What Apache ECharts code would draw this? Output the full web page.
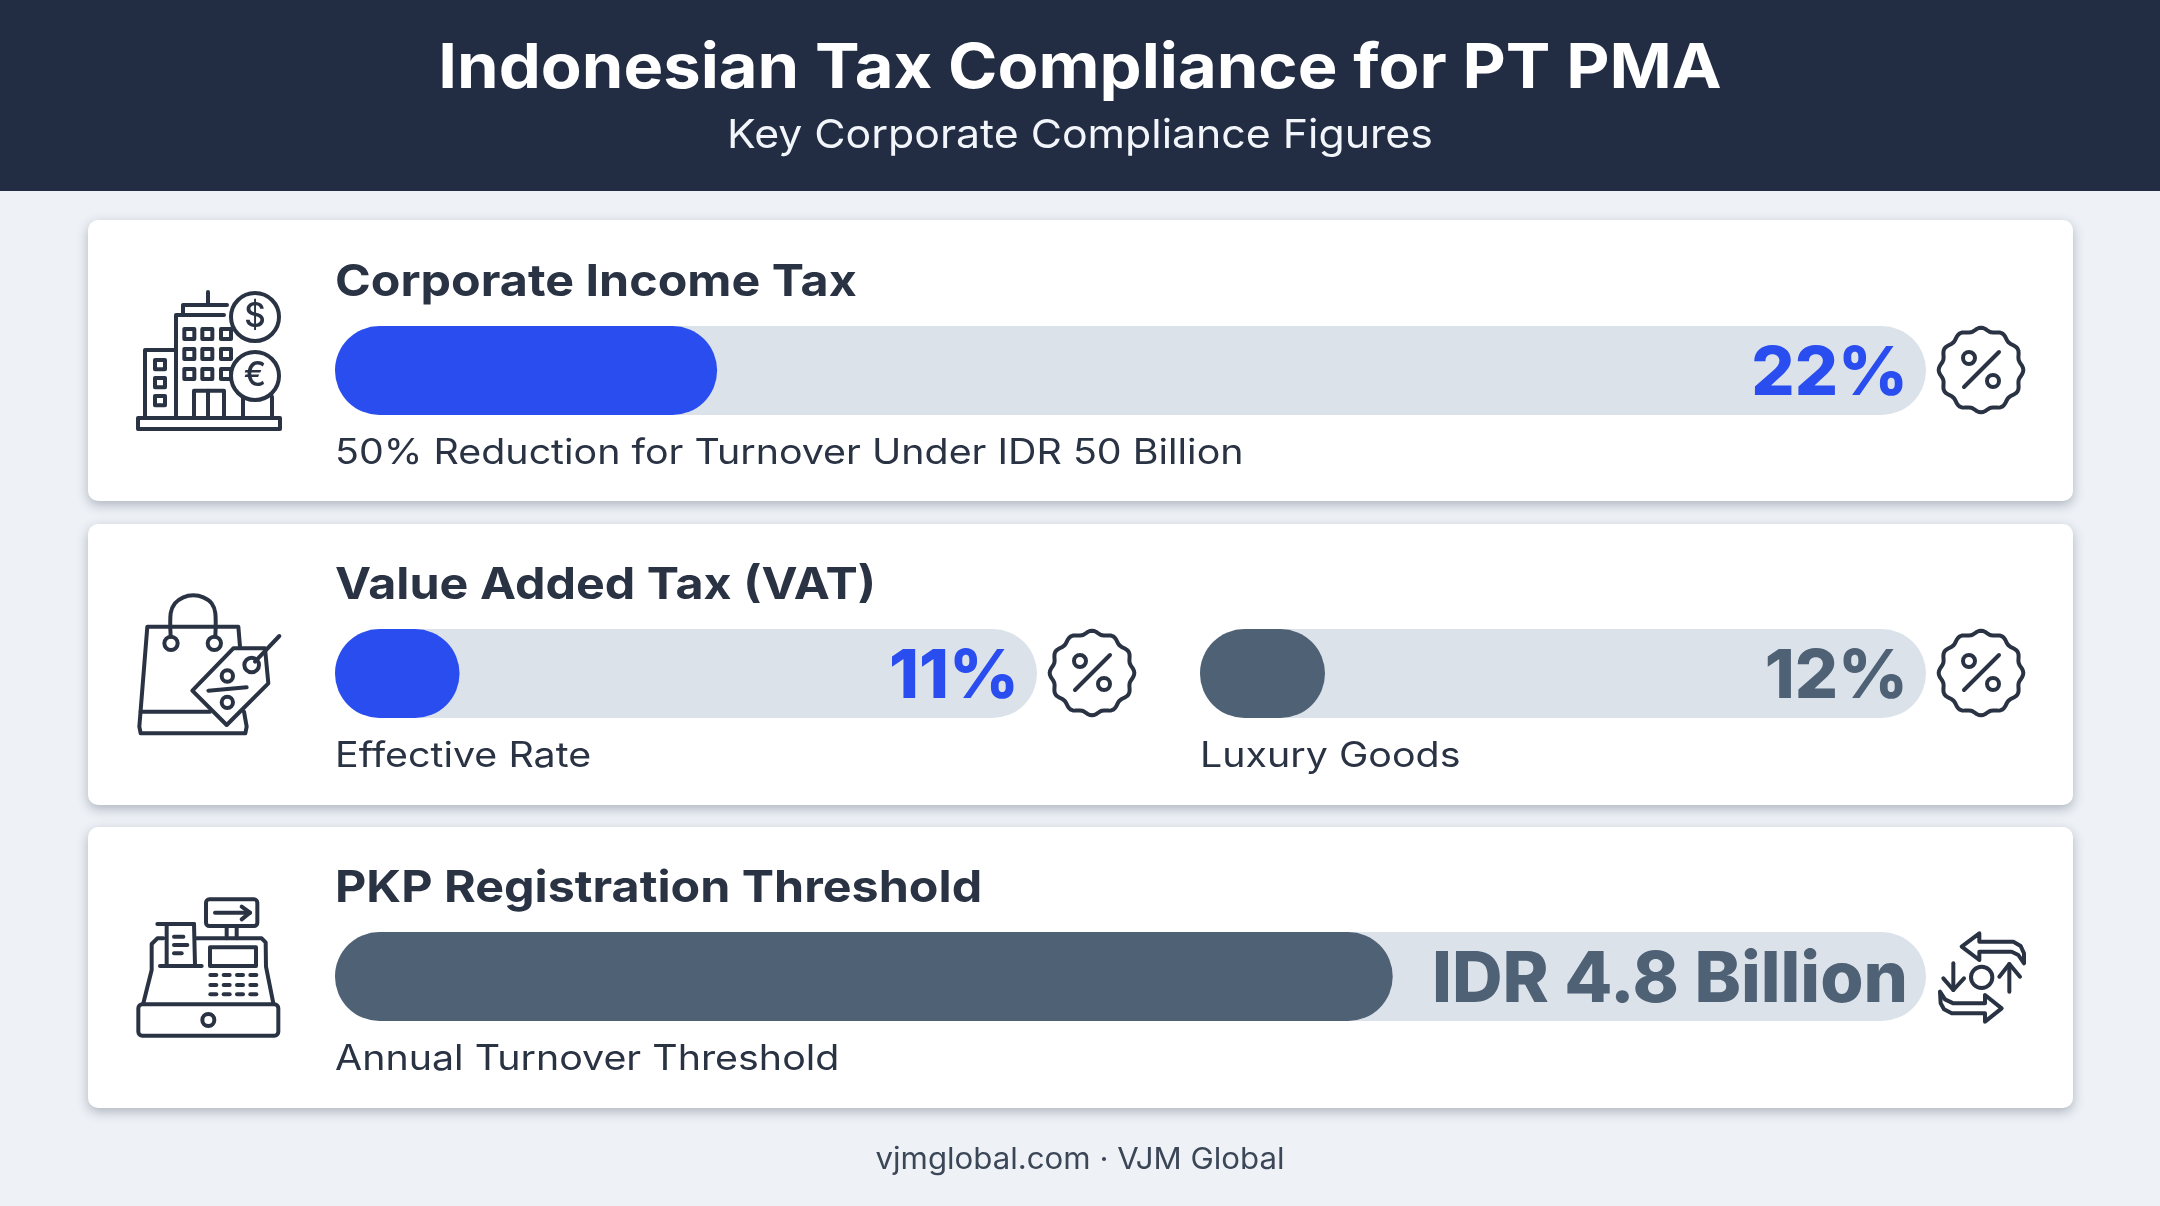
<!DOCTYPE html>
<html>
<head>
<meta charset="utf-8">
<title>Indonesian Tax Compliance for PT PMA</title>
<script src="https://cdn.jsdelivr.net/npm/echarts@6/dist/echarts.min.js"></script>
<style>
	html, body { margin: 0; padding: 0; background: #eef2f7; }
	#main { width: 2160px; height: 1206px; }
</style>
</head>
<body>
<div id="main"></div>
<script>
// chart data
var barNames = ['Corporate Income Tax', 'Effective Rate', 'Luxury Goods', 'PKP Registration Threshold'];
var barValues = [22, 11, 12, 4.8];
var valueLabels = ['22%', '11%', '12%', 'IDR 4.8 Billion'];
// each pill has its own scale in the picture
var trackMax = [91.6, 62, 69.7, 7.22];
var cardTitles = ['Corporate Income Tax', 'Value Added Tax (VAT)', 'PKP Registration Threshold'];
var captions = ['50% Reduction for Turnover Under IDR 50 Billion', 'Effective Rate', 'Luxury Goods', 'Annual Turnover Threshold'];
var headerTitle = 'Indonesian Tax Compliance for PT PMA';
var headerSub = 'Key Corporate Compliance Figures';
var footerText = 'vjmglobal.com · VJM Global';

var INK = '#2a3343', BLUE = '#2a4df0', SLATE = '#4f6175', TRACK = '#dbe2ea';
var FONT = 'Inter, "Noto Sans", sans-serif';

// pixel layout of the pills: left, top, width
var pills = [
	[335, 326, 1591],
	[335, 629, 702],
	[1200, 629, 726],
	[335, 932, 1591]
];
var labelColors = [BLUE, BLUE, SLATE, SLATE];
var labelSizes = [68, 68, 68, 70];

var myChart = echarts.init(document.getElementById('main'));

// stretch: the reference face is wider than Inter
function txt(text, x, y, font, color, align, stretch) {
	return {
		type: 'text', x: x, y: y, z: 5, scaleX: stretch || 1,
		style: { text: text, font: font, fill: color, textAlign: align || 'left', align: align || 'left', textVerticalAlign: 'middle', verticalAlign: 'middle' }
	};
}
function card(y, h) {
	return {
		type: 'rect', z: -1,
		shape: { x: 88, y: y, width: 1985, height: h, r: 10 },
		style: { fill: '#fff', shadowBlur: 12, shadowOffsetY: 4, shadowColor: 'rgba(40,50,70,0.32)' }
	};
}

// icon pieces
var strokeStyle = { stroke: '#2a3343', fill: 'none', lineWidth: 12, lineCap: 'round', lineJoin: 'round' };
function ln(x1, y1, x2, y2) {
	return { type: 'line', shape: { x1: x1, y1: y1, x2: x2, y2: y2 }, style: strokeStyle };
}
function poly(points, closed) {
	return { type: closed ? 'polygon' : 'polyline', shape: { points: points }, style: strokeStyle };
}
function ring(x, y, r) {
	return { type: 'circle', shape: { cx: x, cy: y, r: r }, style: strokeStyle };
}
function box(x, y, w, h, r) {
	return { type: 'rect', shape: { x: x, y: y, width: w, height: h, r: r || 0 }, style: strokeStyle };
}
// icons are drawn in 3x coordinates
function icon(x, y, children) {
	return { type: 'group', x: x, y: y, scaleX: 1 / 3, scaleY: 1 / 3, z: 4, children: children };
}

function buildingIcon() {
	var kids = [
		box(114, 594, 426, 33),
		poly([[135, 594], [135, 390], [228, 390]]),
		poly([[228, 594], [228, 285], [372, 285]]),
		poly([[249, 285], [249, 255], [381, 255]]),
		ln(324, 216, 324, 255),
		box(282, 512, 90, 82), ln(324, 512, 324, 594),
		poly([[429, 530], [429, 594]]), poly([[516, 530], [516, 594]]),
		{ type: 'circle', z: 1, shape: { cx: 465, cy: 291, r: 72 }, style: Object.assign({}, strokeStyle, { fill: '#fff' }) },
		{ type: 'circle', z: 1, shape: { cx: 465, cy: 468, r: 72 }, style: Object.assign({}, strokeStyle, { fill: '#fff' }) },
		{ type: 'text', x: 465, y: 291, z: 2, style: { text: '$', font: '500 100px ' + FONT, fill: INK, textAlign: 'center', align: 'center', textVerticalAlign: 'middle', verticalAlign: 'middle' } },
		{ type: 'text', x: 465, y: 468, z: 2, style: { text: '€', font: '500 100px ' + FONT, fill: INK, textAlign: 'center', align: 'center', textVerticalAlign: 'middle', verticalAlign: 'middle' } }
	];
	[420, 474, 528].forEach(function(wy) { kids.push(box(165, wy, 30, 28)); });
	[327, 387, 447].forEach(function(wy) {
		[253, 307, 363].forEach(function(wx) { kids.push(box(wx, wy, 30, 30)); });
	});
	return icon(100, 220, kids);
}
function bagIcon() {
	return icon(100, 570, [
		poly([[420, 230], [415, 170], [142, 170], [118, 470], [122, 490], [436, 490], [440, 470], [432, 425]]),
		ln(122, 425, 330, 425),
		{ type: 'polyline', shape: { points: [[212, 200], [212, 130], [225, 100], [250, 82], [280, 76], [310, 82], [335, 100], [346, 130], [346, 200]], smooth: 0.3 }, style: strokeStyle },
		ring(213, 220, 20), ring(343, 220, 20),
		{ type: 'polygon', z: 1, shape: { points: [[400, 235], [495, 235], [505, 340], [380, 465], [277, 362]] }, style: Object.assign({}, strokeStyle, { fill: '#fff' }) },
		Object.assign(ring(455, 285, 22), { z: 2 }),
		Object.assign(ln(465, 275, 538, 198), { z: 2 }),
		Object.assign(ring(382, 318, 17), { z: 2 }),
		Object.assign(ring(382, 397, 17), { z: 2 }),
		Object.assign(ln(325, 362, 440, 352), { z: 2 })
	]);
}
function registerIcon() {
	var kids = [
		box(115, 403, 420, 94, 12),
		ring(325, 450, 18),
		poly([[130, 400], [155, 300], [155, 222], [172, 205], [190, 205]]),
		poly([[290, 205], [485, 205], [497, 217], [498, 290], [520, 400]]),
		box(330, 232, 138, 56),
		box(318, 88, 154, 80, 10),
		ln(345, 128, 450, 128),
		poly([[425, 110], [450, 128], [425, 148]]),
		ln(380, 170, 380, 205), ln(410, 170, 410, 205),
		ln(172, 162, 282, 162),
		ln(200, 165, 200, 285), ln(282, 162, 285, 285),
		ln(180, 288, 305, 288),
		ln(222, 200, 250, 200), ln(222, 225, 262, 225), ln(222, 250, 245, 250)
	];
	[315, 345, 373].forEach(function(ky) {
		[340, 380, 420, 460].forEach(function(kx) { kids.push(ln(kx - 9, ky, kx + 9, ky)); });
	});
	return icon(100, 870, kids);
}
function exchangeIcon() {
	return icon(1900, 900, [
		poly([[372, 190], [372, 160], [362, 138], [340, 125], [238, 125], [238, 100], [185, 140], [238, 180], [238, 155], [335, 155], [355, 165], [372, 190]]),
		poly([[120, 275], [122, 310], [132, 328], [155, 340], [255, 340], [255, 365], [305, 325], [255, 285], [255, 310], [160, 310], [135, 298], [120, 275]]),
		ln(160, 190, 160, 270), poly([[130, 235], [160, 270], [192, 235]]),
		ln(328, 275, 328, 192), poly([[298, 230], [328, 192], [360, 230]]),
		ring(245, 232, 32)
	]);
}
// scalloped percent badge
function badge(cx, cy) {
	var pts = [];
	for (var i = 0; i < 120; i++) {
		var a = i / 120 * Math.PI * 2 - Math.PI / 2;
		var r = 122 + 5 * Math.cos(a * 12 + Math.PI * 6);
		pts.push([r * Math.cos(a), r * Math.sin(a)]);
	}
	return {
		type: 'group', x: cx, y: cy, scaleX: 1 / 3, scaleY: 1 / 3, z: 4,
		children: [
			poly(pts, true),
			ring(-36, -36, 18), ring(36, 33, 18),
			ln(-51, 51, 54, -54)
		]
	};
}

var graphic = [
	{ type: 'rect', z: -2, shape: { x: 0, y: 0, width: 2160, height: 191 }, style: { fill: '#222d44' } },
	txt(headerTitle, 1080, 69, '700 62px ' + FONT, '#fff', 'center', 1.078),
	txt(headerSub, 1080, 136, '400 40px ' + FONT, '#f2f5f9', 'center', 1.07),
	card(220, 281), card(524, 281), card(827, 281),
	txt(cardTitles[0], 335, 283, '700 44px ' + FONT, INK, 'left', 1.1),
	txt(cardTitles[1], 335, 586, '700 44px ' + FONT, INK, 'left', 1.1),
	txt(cardTitles[2], 335, 889, '700 44px ' + FONT, INK, 'left', 1.1),
	txt(captions[0], 335, 453, '400 35px ' + FONT, INK, 'left', 1.125),
	txt(captions[1], 335, 756, '400 35px ' + FONT, INK, 'left', 1.125),
	txt(captions[2], 1200, 756, '400 35px ' + FONT, INK, 'left', 1.125),
	txt(captions[3], 335, 1059, '400 35px ' + FONT, INK, 'left', 1.125),
	txt(footerText, 1080, 1160, '400 30px ' + FONT, '#3b4657', 'center', 1.04),
	buildingIcon(), bagIcon(), registerIcon(), exchangeIcon(),
	badge(1981, 370), badge(1092, 673), badge(1981, 673)
];

var grids = [], xAxes = [], yAxes = [], series = [];
barNames.forEach(function(name, i) {
	grids.push({ left: pills[i][0], top: pills[i][1], width: pills[i][2], height: 89 });
	xAxes.push({ type: 'value', gridIndex: i, min: 0, max: trackMax[i], show: false });
	yAxes.push({ type: 'category', gridIndex: i, data: [name], show: false });
	series.push({
		name: name + ' track',
		type: 'bar', xAxisIndex: i, yAxisIndex: i, barWidth: 89, barGap: '-100%',
		silent: true,
		itemStyle: { color: TRACK, borderRadius: 44.5 },
		label: {
			show: true, position: 'insideRight', distance: 18, offset: [0, 4],
			formatter: valueLabels[i],
			fontFamily: FONT, fontWeight: 800, fontSize: labelSizes[i], color: labelColors[i]
		},
		data: [trackMax[i]]
	});
	series.push({
		name: name,
		type: 'bar', xAxisIndex: i, yAxisIndex: i, barWidth: 89, barGap: '-100%',
		itemStyle: { color: i == 0 || i == 1 ? BLUE : SLATE, borderRadius: 44.5 },
		data: [barValues[i]]
	});
});

var option = {
	animation: false,
	backgroundColor: '#eef2f7',
	grid: grids,
	xAxis: xAxes,
	yAxis: yAxes,
	series: series,
	graphic: graphic
};
myChart.setOption(option);
</script>
</body>
</html>
